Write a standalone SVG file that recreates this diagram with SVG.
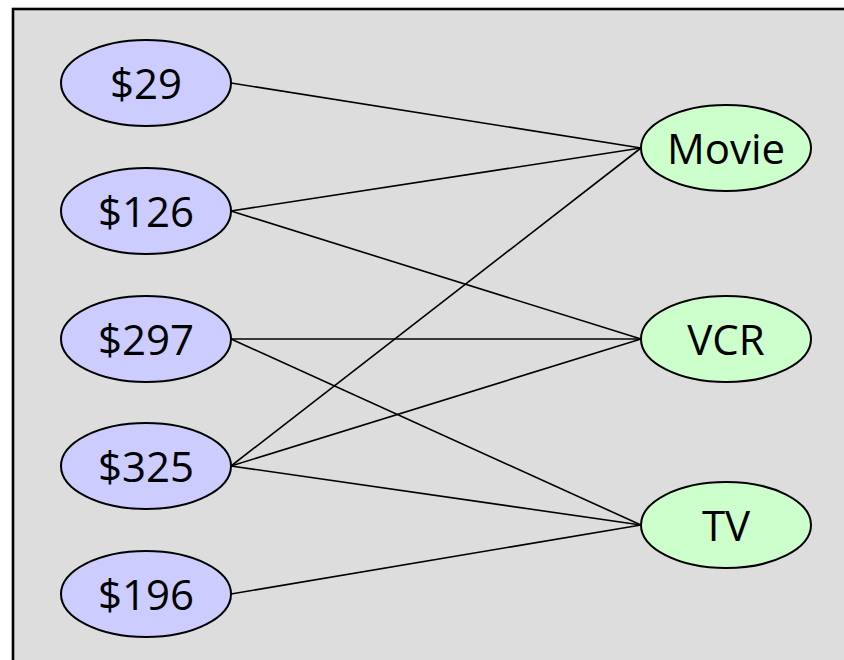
<svg xmlns="http://www.w3.org/2000/svg" width="844" height="660" viewBox="0 0 844 660">
  <style>
    .price ellipse { fill: #ccccff; stroke: #000; stroke-width: 2; }
    .item ellipse { fill: #ccffcc; stroke: #000; stroke-width: 2; }
    text { font-family: "Open Sans", "Liberation Sans", sans-serif; font-size: 42px; fill: #000; text-anchor: middle; }
    #edges line { stroke: #000; stroke-width: 1.6; }
  </style>
  <rect x="0" y="0" width="844" height="660" fill="#ffffff"/>
  <rect x="13" y="9" width="850" height="670" fill="#dddddd" stroke="#000" stroke-width="2.6"/>

  <g id="edges">
    <line x1="231" y1="83" x2="641" y2="148"/>
    <line x1="231" y1="211" x2="641" y2="148"/>
    <line x1="231" y1="211" x2="641" y2="339"/>
    <line x1="231" y1="339" x2="641" y2="339"/>
    <line x1="231" y1="339" x2="641" y2="525"/>
    <line x1="231" y1="466" x2="641" y2="148"/>
    <line x1="231" y1="466" x2="641" y2="339"/>
    <line x1="231" y1="466" x2="641" y2="525"/>
    <line x1="231" y1="594" x2="641" y2="525"/>
  </g>

  <g id="p29" class="price"><ellipse cx="146" cy="83" rx="85" ry="43"/><text x="146" y="99">$29</text></g>
  <g id="p126" class="price"><ellipse cx="146" cy="211" rx="85" ry="43"/><text x="146" y="227">$126</text></g>
  <g id="p297" class="price"><ellipse cx="146" cy="339" rx="85" ry="43"/><text x="146" y="355">$297</text></g>
  <g id="p325" class="price"><ellipse cx="146" cy="466" rx="85" ry="43"/><text x="146" y="482">$325</text></g>
  <g id="p196" class="price"><ellipse cx="146" cy="594" rx="85" ry="43"/><text x="146" y="610">$196</text></g>

  <g id="movie" class="item"><ellipse cx="726" cy="148" rx="85" ry="43"/><text x="726" y="164">Movie</text></g>
  <g id="vcr" class="item"><ellipse cx="726" cy="339" rx="85" ry="43"/><text x="726" y="355">VCR</text></g>
  <g id="tv" class="item"><ellipse cx="726" cy="525" rx="85" ry="43"/><text x="726" y="541">TV</text></g>
</svg>
